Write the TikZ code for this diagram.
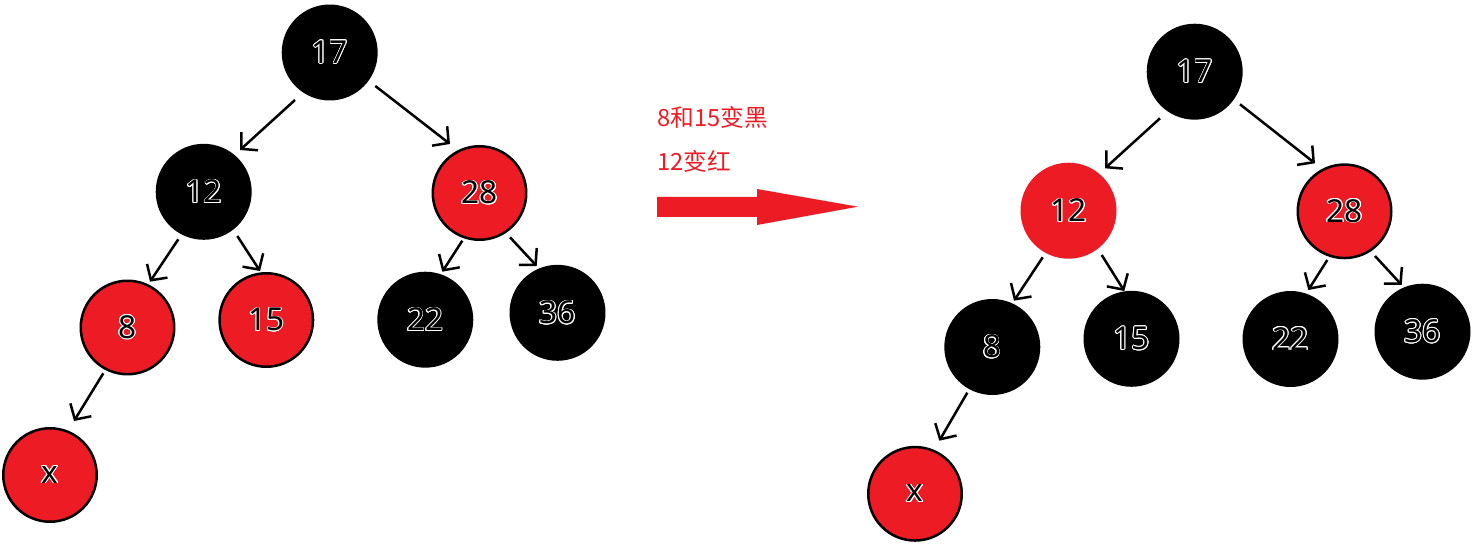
\documentclass[tikz,border=0pt]{standalone}
\usepackage{fontspec}
\usepackage{contour}
\newfontfamily\cjk{Noto Sans CJK SC}
\newfontfamily\numfont{Noto Sans}
\usetikzlibrary{arrows.meta,calc}
\definecolor{pred}{HTML}{ED1C24}
\contourlength{0.4pt}
\tikzset{
 rbnode/.style={circle, minimum size=1.87cm, inner sep=0pt, line width=0.05cm, font=\numfont\fontsize{18}{18}\selectfont, text=black},
 blacknode/.style={rbnode, fill=black, draw=black},
 rednode/.style={rbnode, fill=pred, draw=black},
 rednb/.style={rbnode, fill=pred, draw=pred},
 edge/.style={-{Straight Barb[length=6.5pt,width=14pt]}, line width=0.05cm, black},
 note/.style={font=\cjk\fontsize{13.5}{13.5}\selectfont, text=pred, anchor=west, inner sep=0pt},
}
\newcommand{\lbl}[1]{\contour{white}{#1}}
\begin{document}
\begin{tikzpicture}[x=0.02cm,y=0.02cm]
\useasboundingbox (0,0) rectangle (1474,555);
% left tree
\node[blacknode] (L17) at (329.7,502.5) {\lbl{17}};
\node[blacknode] (L12) at (203.7,363.2) {\lbl{12}};
\node[rednode] (L28) at (479.5,362) {\lbl{28}};
\node[rednode] (L8) at (127.5,227.5) {\lbl{8}};
\node[rednode] (L15) at (266.3,235) {\lbl{15}};
\node[blacknode] (L22) at (425.3,235.3) {\lbl{22}};
\node[blacknode] (L36) at (557.5,242.2) {\lbl{36}};
\node[rednode] (Lx) at (50,80) {\lbl{x}};
\draw[edge] ($(L17)+(-34.7,-47.5)$) -- ($(L12)+(36.3,41.8)$);
\draw[edge] ($(L17)+(45.6,-33.5)$) -- ($(L28)+(-29.5,49)$);
\draw[edge] ($(L12)+(-25.4,-47.5)$) -- ($(L8)+(22.5,45.8)$);
\draw[edge] ($(L12)+(33.6,-44.2)$) -- ($(L15)+(-6.3,49)$);
\draw[edge] ($(L28)+(-17.2,-47.7)$) -- ($(L22)+(17,48)$);
\draw[edge] ($(L28)+(30.5,-44.3)$) -- ($(L36)+(-20.8,46.8)$);
\draw[edge] ($(L8)+(-24.2,-45.8)$) -- ($(Lx)+(24,54)$);
% middle
\node[note] (t1) at (657,438) {8和15变黑};
\node[note] (t2) at (657,394) {12变红};
\fill[pred] (657,358) -- (757,358) -- (757,366) -- (858,348.3) -- (757,330) -- (757,338) -- (657,338) -- cycle;
% right tree
\node[blacknode] (R17) at (1194.7,483.3) {\lbl{17}};
\node[rednb] (R12) at (1068.5,344.3) {\lbl{12}};
\node[rednode] (R28) at (1344.5,343.7) {\lbl{28}};
\node[blacknode] (R8) at (992.3,208) {\lbl{8}};
\node[blacknode] (R15) at (1131.5,216.2) {\lbl{15}};
\node[blacknode] (R22) at (1290.5,216) {\lbl{22}};
\node[blacknode] (R36) at (1422.5,223.3) {\lbl{36}};
\node[rednode] (Rx) at (915,61.2) {\lbl{x}};
\draw[edge] ($(R17)+(-34.7,-46.6)$) -- ($(R12)+(36.5,42.4)$);
\draw[edge] ($(R17)+(45.3,-32.6)$) -- ($(R28)+(-29.5,48)$);
\draw[edge] ($(R12)+(-25.8,-46.6)$) -- ($(R8)+(21.7,46.3)$);
\draw[edge] ($(R12)+(33.2,-44.3)$) -- ($(R15)+(-7.2,47.8)$);
\draw[edge] ($(R28)+(-17.2,-48.7)$) -- ($(R22)+(17.8,49)$);
\draw[edge] ($(R28)+(30.5,-44.7)$) -- ($(R36)+(-20.8,46.7)$);
\draw[edge] ($(R8)+(-25,-45.7)$) -- ($(Rx)+(24.3,53.1)$);
\end{tikzpicture}
\end{document}
